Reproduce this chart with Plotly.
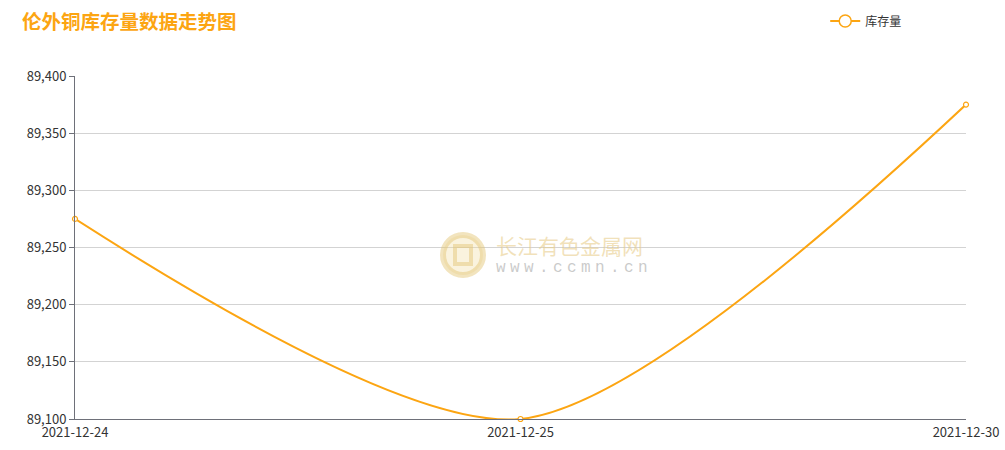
import plotly.graph_objects as go

dates = ["2021-12-24", "2021-12-25", "2021-12-30"]
stock = [89275, 89100, 89375]
y_ticks = [89100, 89150, 89200, 89250, 89300, 89350, 89400]

ORANGE = "#fca512"
fig = go.Figure()
fig.add_trace(go.Scatter(
    x=dates, y=stock, name="库存量", mode="lines+markers", showlegend=False,
    line=dict(color=ORANGE, width=2, shape="spline", smoothing=0.8),
    marker=dict(symbol="circle", size=5, color="white", line=dict(color=ORANGE, width=1.2)),
    cliponaxis=False,
))
# legend entry (larger symbol, as in the reference legend)
fig.add_trace(go.Scatter(
    x=[None], y=[None], name="库存量", mode="lines+markers",
    line=dict(color=ORANGE, width=2),
    marker=dict(symbol="circle", size=12, color="white", line=dict(color=ORANGE, width=1.5)),
))

fig.update_layout(
    width=1005, height=450,
    margin=dict(l=75, r=39, t=76, b=31, autoexpand=False),
    paper_bgcolor="white", plot_bgcolor="white",
    font=dict(family="Noto Sans CJK SC, Noto Sans, sans-serif", size=12, color="#333"),
    title=dict(text="<b>伦外铜库存量数据走势图</b>", x=0.022, xanchor="left", y=0.95, yanchor="middle",
               font=dict(size=19.5, color=ORANGE, family="Noto Sans CJK SC")),
    showlegend=True,
    legend=dict(x=0.842, y=(419-21)/343, xanchor="left", yanchor="middle", orientation="h",
                font=dict(size=12, color="#333"), bgcolor="rgba(0,0,0,0)", itemwidth=30),
    xaxis=dict(type="category", showgrid=False, showline=True, linecolor="#6e7079", linewidth=1,
               ticks="outside", ticklen=1, tickcolor="rgba(0,0,0,0)", automargin=False,
               tickfont=dict(size=13, color="#333"), range=[0, 2], fixedrange=True),
    yaxis=dict(range=[89100, 89400], tickvals=y_ticks, tickformat=",d",
               showgrid=True, gridcolor="#d3d3d3", gridwidth=1, automargin=False,
               showline=True, linecolor="#6e7079", linewidth=1,
               ticks="outside", ticklen=5, tickcolor="#6e7079",
               tickfont=dict(size=13, color="#333"), zeroline=False),
)

def px(x):
    return (x - 75) / 891

def py(y):
    return (419 - y) / 343

# watermark
fig.add_shape(type="circle", xref="paper", yref="paper",
              x0=px(443), x1=px(483), y0=py(275), y1=py(235),
              line=dict(color="rgba(226,196,110,0.45)", width=6), fillcolor="rgba(240,220,160,0.35)")
fig.add_shape(type="rect", xref="paper", yref="paper",
              x0=px(455), x1=px(471), y0=py(264), y1=py(246),
              line=dict(color="rgba(226,196,110,0.45)", width=4), fillcolor="rgba(255,255,255,0)")
fig.add_annotation(xref="paper", yref="paper", x=px(569), y=py(245),
                   text="长江有色金属网", showarrow=False,
                   font=dict(size=21, color="rgba(232,205,140,0.6)", family="Noto Sans CJK SC"))
for i, ch in enumerate("www.ccmn.cn"):
    fig.add_annotation(xref="paper", yref="paper", x=px(501 + 14.2 * i), y=py(268),
                       text=ch, showarrow=False,
                       font=dict(size=16, color="rgba(185,185,185,0.75)", family="Liberation Mono"))

fig.write_html("out.html", config={"displayModeBar": False},
               post_script="document.body.style.margin='0';")
